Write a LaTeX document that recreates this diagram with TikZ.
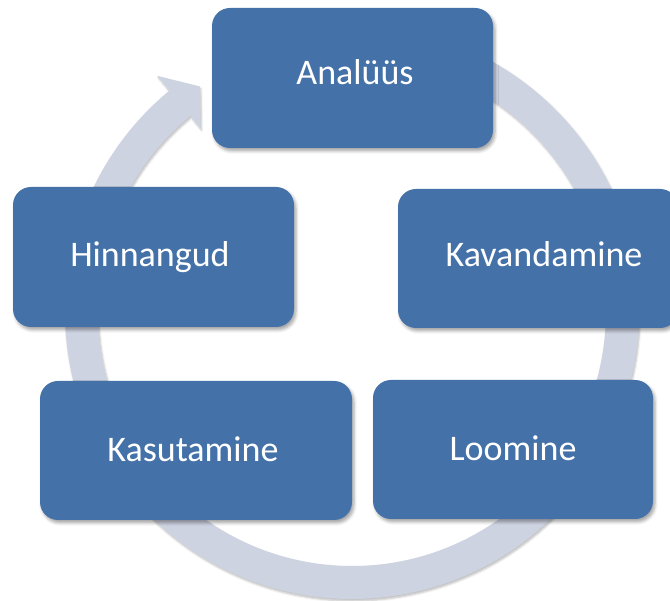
\documentclass[tikz,border=0pt]{standalone}
\usepackage{fontspec}
\setmainfont{Carlito}
\usetikzlibrary{shadows.blur}
\definecolor{boxblue}{RGB}{68,114,168}
\definecolor{ringgray}{RGB}{206,211,226}
\tikzset{
  stagebox/.style={rounded corners=18pt, fill=boxblue, draw=none, inner sep=0pt,
    blur shadow={shadow xshift=2pt, shadow yshift=-3pt, shadow blur radius=3pt, shadow opacity=35}},
  lbl/.style={text=white, font=\fontsize{36}{40}\selectfont, anchor=base, inner sep=0pt},
  ringshape/.style={fill=ringgray, draw=none,
    blur shadow={shadow xshift=1pt, shadow yshift=-2pt, shadow blur radius=2pt, shadow opacity=25}}
}
\begin{document}
\begin{tikzpicture}[x=1pt,y=1pt]
\useasboundingbox (0,0) rectangle (670,601);
% cycle ring with arrowhead
\begin{scope}[shift={(352,289)}]
  \fill[ringshape] (100:287) arc[start angle=100, end angle=-230.5, radius=287]
     -- (-230.5:306) -- (-236:272) -- (-230.5:238) -- (-230.5:254)
     arc[start angle=-230.5, end angle=100, radius=254] -- cycle;
\end{scope}
% boxes
\path[stagebox] (212,453) rectangle (493,593);
\node[inner sep=0pt, minimum width=281pt, minimum height=140pt] (b1) at (352.5,523) {};
\path[stagebox] (398,273) rectangle (678,412);
\node[inner sep=0pt, minimum width=280pt, minimum height=139pt] (b2) at (538,342.5) {};
\path[stagebox] (373,82) rectangle (653,221);
\node[inner sep=0pt, minimum width=280pt, minimum height=139pt] (b3) at (513,151.5) {};
\path[stagebox] (40,81) rectangle (352,220);
\node[inner sep=0pt, minimum width=312pt, minimum height=139pt] (b4) at (196,150.5) {};
\path[stagebox] (13,274) rectangle (294,414);
\node[inner sep=0pt, minimum width=281pt, minimum height=140pt] (b5) at (153.5,344) {};
% labels
\node[lbl] (t1) at (355,516) {Analüüs};
\node[lbl] (t2) at (544,334) {Kavandamine};
\node[lbl] (t3) at (513,140) {Loomine};
\node[lbl] (t4) at (193,139) {Kasutamine};
\node[lbl] (t5) at (150,334) {Hinnangud};
\end{tikzpicture}
\end{document}
